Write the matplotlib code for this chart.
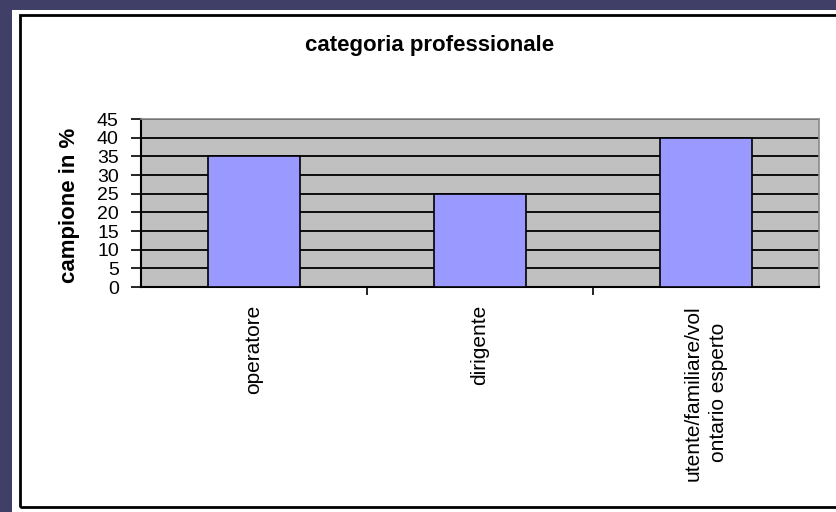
import matplotlib
matplotlib.use('Agg')
import matplotlib.pyplot as plt
from matplotlib.patches import Rectangle

plt.rcParams['font.family'] = ['Liberation Sans', 'DejaVu Sans']

categories = ["operatore", "dirigente", "utente/familiare/vol\nontario esperto"]
values     = [35, 25, 40]
yticks     = [0, 5, 10, 15, 20, 25, 30, 35, 40, 45]

W, H = 836, 512
fig = plt.figure(figsize=(W / 100, H / 100), dpi=100)
fig.patch.set_facecolor("#3f3f68")

# white chart area and its black frame (pixel coords -> figure fraction)
def box(x0, y0, x1, y1, **kw):
    return Rectangle((x0 / W, 1 - y1 / H), (x1 - x0) / W, (y1 - y0) / H,
                     transform=fig.transFigure, **kw)

fig.patches.append(box(12, 10, 836, 512, facecolor="white", edgecolor="none", zorder=-2))
fig.patches.append(box(20, 15, 842, 507, facecolor="none", edgecolor="black",
                       linewidth=2, zorder=-1))

# plot area
left, right, top, bottom = 141, 819, 119, 287
ax = fig.add_axes([left / W, 1 - bottom / H, (right - left) / W, (bottom - top) / H])
ax.set_zorder(1)
ax.set_facecolor("#C0C0C0")

x = list(range(len(categories)))
ax.bar(x, values, width=0.41, color="#9999FF", edgecolor="black",
       linewidth=1.2, zorder=3)

ax.set_xlim(-0.5, len(categories) - 0.5)
ax.set_ylim(0, 45)
ax.set_yticks(yticks)
ax.set_yticklabels([str(v) for v in yticks], fontsize=14)
ax.yaxis.grid(True, color="black", linewidth=1.3, zorder=1)
ax.set_axisbelow(True)

ax.set_xticks(x)
ax.set_xticklabels(categories, rotation=90, fontsize=15, va="top",
                   ha="center", linespacing=1.45)
ax.set_xticks([0.5, 1.5], minor=True)
ax.tick_params(axis="x", which="major", length=0, pad=13)
ax.tick_params(axis="x", which="minor", length=6, width=1.2, direction="out")
ax.tick_params(axis="y", length=7, width=1.2, pad=9, direction="out")

for s in ["left", "bottom"]:
    ax.spines[s].set_color("black")
    ax.spines[s].set_linewidth(1.5)
for s in ["top", "right"]:
    ax.spines[s].set_color("#8a8a8a")
    ax.spines[s].set_linewidth(1.2)

fig.text(69 / W, 1 - 205 / H, "campione in %", rotation=90, fontsize=16,
         fontweight="bold", ha="center", va="center")
fig.text(430 / W, 1 - 45 / H, "categoria professionale", fontsize=16,
         fontweight="bold", ha="center", va="center")

fig.savefig("out.png", dpi=100, facecolor=fig.get_facecolor())
